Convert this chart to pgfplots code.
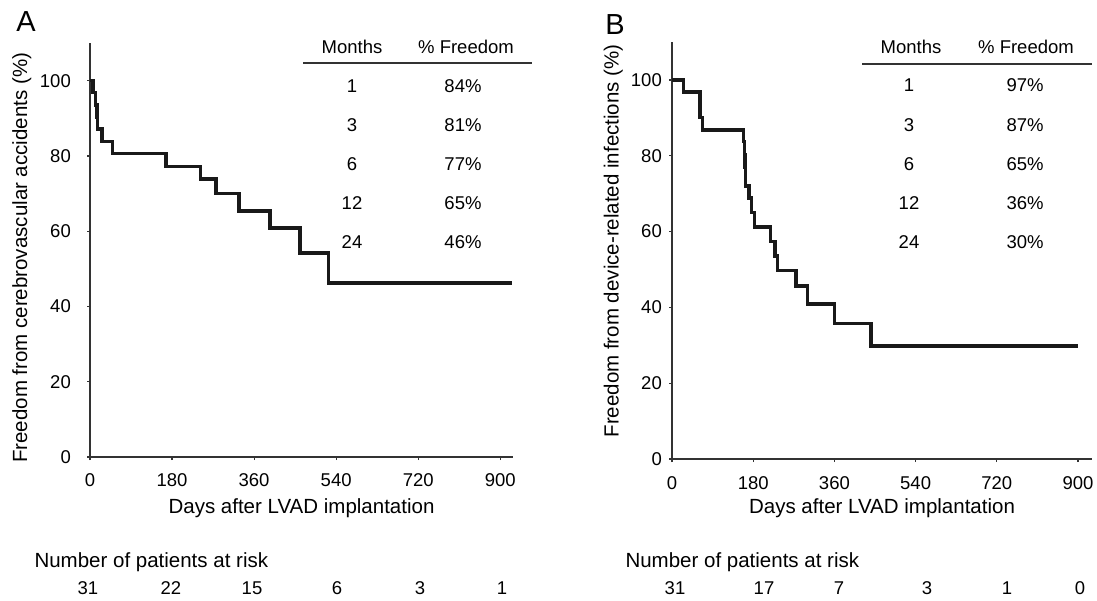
\documentclass[border=0pt]{standalone}
\usepackage{pgfplots}
\pgfplotsset{compat=1.18}
\usepackage{fontspec}
\setmainfont{Liberation Sans}
\begin{document}
\begin{tikzpicture}[x=1pt,y=1pt]
\useasboundingbox (0,0) rectangle (1097,600);
\pgfplotsset{
 km/.style={
  scale only axis, axis lines*=left, xmin=0, ymin=0, ymax=110,
  xtick={0,180,360,540,720,900}, ytick={0,20,40,60,80,100},
  tick align=outside, major tick length=3pt,
  axis line style={line width=2pt, black!80, shorten <=-3pt},
  tick style={line width=1.2pt, black!80},
  ticklabel style={font=\fontsize{18.5}{20}\selectfont, inner sep=0pt},
  /pgf/number format/assume math mode=true,
  label style={font=\fontsize{20.5}{22}\selectfont},
  clip=false,
 }
}
\begin{axis}[km, at={(90pt,143pt)}, anchor=south west, width=423pt, height=414pt, xmax=928,
  xticklabel style={anchor=north, yshift=-13pt},
  yticklabel style={anchor=east, xshift=-16pt},
  xlabel={Days after LVAD implantation},
  ylabel={Freedom from cerebrovascular accidents (\%)},
  xlabel style={at={(axis description cs:0.5,-0.123)}, anchor=center},
  ylabel style={at={(axis description cs:-0.161,0.481)}, anchor=center}]
\addplot[const plot, line width=3.4pt, black!90, line join=miter] coordinates {
 (0,100)(7,96.8)(12,93.5)(15,90.3)(16,87.1)(26,83.9)(49,80.6)(167,77.2)(243,73.9)
 (276,70.0)(327,65.4)(395,60.8)(461,54.2)(523,46.2)(925,46.2)};
\end{axis}
\begin{axis}[km, at={(672pt,141pt)}, anchor=south west, width=420pt, height=417pt, xmax=931,
  xticklabel style={anchor=north, yshift=-14pt},
  yticklabel style={anchor=east, xshift=-7pt},
  xlabel={Days after LVAD implantation},
  ylabel={Freedom from device-related infections (\%)},
  xlabel style={at={(axis description cs:0.5,-0.1175)}, anchor=center},
  ylabel style={at={(axis description cs:-0.140,0.523)}, anchor=center}]
\addplot[const plot, line width=3.4pt, black!90, line join=miter] coordinates {
 (0,100)(25,96.8)(62,90.1)(68,86.8)(159,83.7)(161,80.3)(162,76.9)(163,72.0)(171,68.8)
 (176,65.0)(183,61.2)(218,57.3)(228,53.6)(234,49.7)(275,45.6)(300,40.9)(360,35.8)
 (441,29.8)(900,29.8)};
\end{axis}
% panel letters
\node[font=\fontsize{29}{30}\selectfont] at (26,578) {A};
\node[font=\fontsize{29}{30}\selectfont] at (615,575) {B};
% table A
\begin{scope}[every node/.style={font=\fontsize{18.5}{20}\selectfont}]
\node at (352,553) {Months};
\node at (466,553) {\% Freedom};
\draw[line width=2pt, black!80] (303,537) -- (532,537);
\node at (352,514) {1};  \node at (463,514) {84\%};
\node at (352,475) {3};  \node at (463,475) {81\%};
\node at (352,436) {6};  \node at (463,436) {77\%};
\node at (352,397) {12}; \node at (463,397) {65\%};
\node at (352,358) {24}; \node at (463,358) {46\%};
% table B
\node at (911,553) {Months};
\node at (1026,553) {\% Freedom};
\draw[line width=2pt, black!80] (862,536) -- (1092,536);
\node at (909,515) {1};  \node at (1025,515) {97\%};
\node at (909,475) {3};  \node at (1025,475) {87\%};
\node at (909,436) {6};  \node at (1025,436) {65\%};
\node at (909,397) {12}; \node at (1025,397) {36\%};
\node at (909,358) {24}; \node at (1025,358) {30\%};
% patients at risk
\node[font=\fontsize{20.5}{22}\selectfont, anchor=west] at (31,38) {Number of patients at risk};
\node[font=\fontsize{20.5}{22}\selectfont, anchor=west] at (622,38) {Number of patients at risk};
\node at (88,12) {31}; \node at (171,12) {22}; \node at (252,12) {15};
\node at (337,12) {6}; \node at (420,12) {3}; \node at (502,12) {1};
\node at (675,12) {31}; \node at (764,12) {17}; \node at (839,12) {7};
\node at (927,12) {3}; \node at (1007,12) {1}; \node at (1080,12) {0};
\end{scope}
\end{tikzpicture}
\end{document}
